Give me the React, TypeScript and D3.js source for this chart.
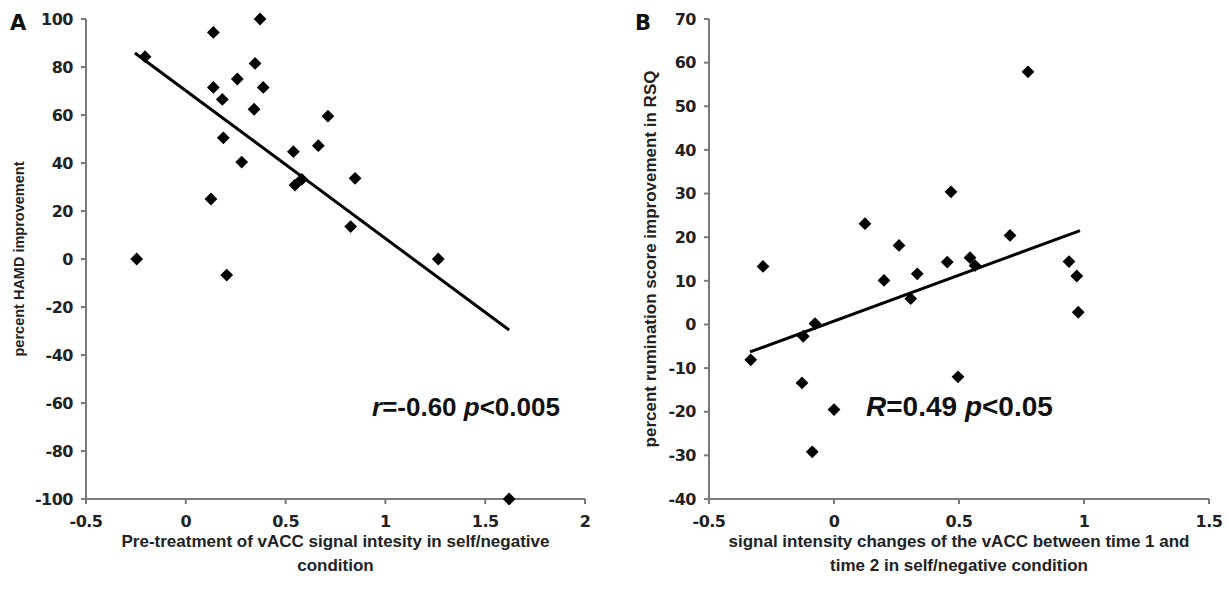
import React from "react";
import * as d3 from "d3";

// Panel A data
const aX = [-0.246, -0.204, 0.138, 0.138, 0.126, 0.188, 0.183, 0.258, 0.28, 0.342, 0.347, 0.372, 0.388, 0.205, 0.539, 0.547, 0.581, 0.664, 0.712, 0.848, 0.826, 1.265, 1.62];
const aY = [0, 84.3, 94.4, 71.5, 25, 50.5, 66.5, 75, 40.4, 62.4, 81.5, 100, 71.5, -6.7, 44.7, 30.8, 33.2, 47.2, 59.5, 33.6, 13.5, 0, -100];
const aTrendX = [-0.255, 1.62];
const aTrendY = [85.8, -29.6];
const aXTicks = [-0.5, 0, 0.5, 1, 1.5, 2];
const aYTicks = [100, 80, 60, 40, 20, 0, -20, -40, -60, -80, -100];

// Panel B data
const bX = [-0.333, -0.123, -0.076, -0.128, 0.0, -0.087, 0.26, 0.2, 0.333, 0.453, 0.704, 0.544, 0.564, 0.307, 0.94, 0.971, 0.977, -0.284, 0.124, 0.468, 0.776, 0.496];
const bY = [-8.1, -2.7, 0.2, -13.4, -19.5, -29.2, 18.1, 10.1, 11.6, 14.3, 20.4, 15.3, 13.5, 5.9, 14.4, 11.1, 2.8, 13.3, 23.1, 30.4, 57.9, -12];
const bTrendX = [-0.336, 0.984];
const bTrendY = [-6.3, 21.5];
const bXTicks = [-0.5, 0, 0.5, 1, 1.5];
const bYTicks = [70, 60, 50, 40, 30, 20, 10, 0, -10, -20, -30, -40];

const TICKFONT = "'DejaVu Sans', sans-serif";
const LABELFONT = "'Liberation Sans', Arial, sans-serif";
const AXIS = "#7a7a7a";
const TEXT = "#222";

type PanelProps = {
  letter: string;
  xs: number[];
  ys: number[];
  tx: number[];
  ty: number[];
  xTicks: number[];
  yTicks: number[];
  xRange: [number, number];
  yRange: [number, number];
  yLabel: string;
  yLabelX: number;
  yLabelSize: number;
  xLabel: string[];
  xLabelSize: number;
  anno: React.ReactNode;
  annoX: number;
  annoY: number;
  annoSize: number;
  letterX: number;
};

function Panel(p: PanelProps) {
  const xDom = d3.extent(p.xTicks) as [number, number];
  const yDom = d3.extent(p.yTicks) as [number, number];
  const x = d3.scaleLinear().domain(xDom).range(p.xRange);
  const y = d3.scaleLinear().domain(yDom).range([p.yRange[1], p.yRange[0]]);
  const sym = d3.symbol().type(d3.symbolSquare).size(82)();
  const line = d3.line<number>().x((_, i) => x(p.tx[i])).y((_, i) => y(p.ty[i]));
  const x0 = p.xRange[0];
  const yBottom = p.yRange[1];
  const cx = (p.xRange[0] + p.xRange[1]) / 2;
  const cy = (p.yRange[0] + p.yRange[1]) / 2;
  return (
    <g>
      <text x={p.letterX} y={30} fontSize={21} fontWeight={700} fill="#111" fontFamily={TICKFONT}>{p.letter}</text>
      {/* y axis */}
      <line x1={x0} x2={x0} y1={y(yDom[1])} y2={y(yDom[0])} stroke={AXIS} strokeWidth={2} />
      {p.yTicks.map((t) => (
        <g key={"y" + t}>
          <line x1={x0 - 5} x2={x0} y1={y(t)} y2={y(t)} stroke={AXIS} strokeWidth={2} />
          <text x={x0 - 13} y={y(t)} dy="0.36em" textAnchor="end" fontSize={16} fontWeight={700} fill={TEXT} fontFamily={TICKFONT} letterSpacing={-0.5}>{t}</text>
        </g>
      ))}
      {/* x axis */}
      <line x1={x(xDom[0])} x2={x(xDom[1])} y1={yBottom} y2={yBottom} stroke={AXIS} strokeWidth={2} />
      {p.xTicks.map((t) => (
        <g key={"x" + t}>
          <line x1={x(t)} x2={x(t)} y1={yBottom} y2={yBottom + 5} stroke={AXIS} strokeWidth={2} />
          <text x={x(t)} y={yBottom + 28} textAnchor="middle" fontSize={16} fontWeight={700} fill={TEXT} fontFamily={TICKFONT} letterSpacing={-0.5}>{t}</text>
        </g>
      ))}
      {/* axis labels */}
      <text transform={`translate(${p.yLabelX},${cy}) rotate(-90)`} textAnchor="middle" fontSize={p.yLabelSize} fontWeight={700} fill={TEXT} fontFamily={LABELFONT}>{p.yLabel}</text>
      {p.xLabel.map((l, i) => (
        <text key={l} x={cx} y={547 + i * 24} textAnchor="middle" fontSize={p.xLabelSize} fontWeight={700} fill={TEXT} fontFamily={LABELFONT}>{l}</text>
      ))}
      {/* trend */}
      <path d={line(p.tx) || ""} stroke="#000" strokeWidth={3} fill="none" />
      {/* points */}
      {p.xs.map((v, i) => (
        <path key={i} d={sym || ""} transform={`translate(${x(v)},${y(p.ys[i])}) rotate(45)`} fill="#000" />
      ))}
      <text x={p.annoX} y={p.annoY} fontSize={p.annoSize} fontWeight={700} fill="#111" fontFamily={LABELFONT}>{p.anno}</text>
    </g>
  );
}

export default function App() {
  return (
    <svg width={1228} height={596} style={{ position: "absolute", left: 0, top: 0, background: "#fff" }}>
      <rect width={1228} height={596} fill="#fff" />
      <Panel
        letter="A"
        letterX={10}
        xs={aX}
        ys={aY}
        tx={aTrendX}
        ty={aTrendY}
        xTicks={aXTicks}
        yTicks={aYTicks}
        xRange={[86, 585]}
        yRange={[19, 499]}
        yLabel="percent HAMD improvement"
        yLabelX={24}
        yLabelSize={14.5}
        xLabel={["Pre-treatment of vACC signal intesity in self/negative", "condition"]}
        xLabelSize={17}
        anno={<><tspan fontStyle="italic">r</tspan>=-0.60 <tspan fontStyle="italic">p</tspan>&lt;0.005</>}
        annoX={372}
        annoY={416}
        annoSize={26}
      />
      <Panel
        letter="B"
        letterX={635}
        xs={bX}
        ys={bY}
        tx={bTrendX}
        ty={bTrendY}
        xTicks={bXTicks}
        yTicks={bYTicks}
        xRange={[709, 1209]}
        yRange={[19, 499]}
        yLabel="percent rumination score improvement in RSQ"
        yLabelX={656}
        yLabelSize={17}
        xLabel={["signal intensity changes of the vACC between time 1 and", "time 2 in self/negative condition"]}
        xLabelSize={17}
        anno={<><tspan fontStyle="italic">R</tspan>=0.49 <tspan fontStyle="italic">p</tspan>&lt;0.05</>}
        annoX={866}
        annoY={416}
        annoSize={28}
      />
    </svg>
  );
}
